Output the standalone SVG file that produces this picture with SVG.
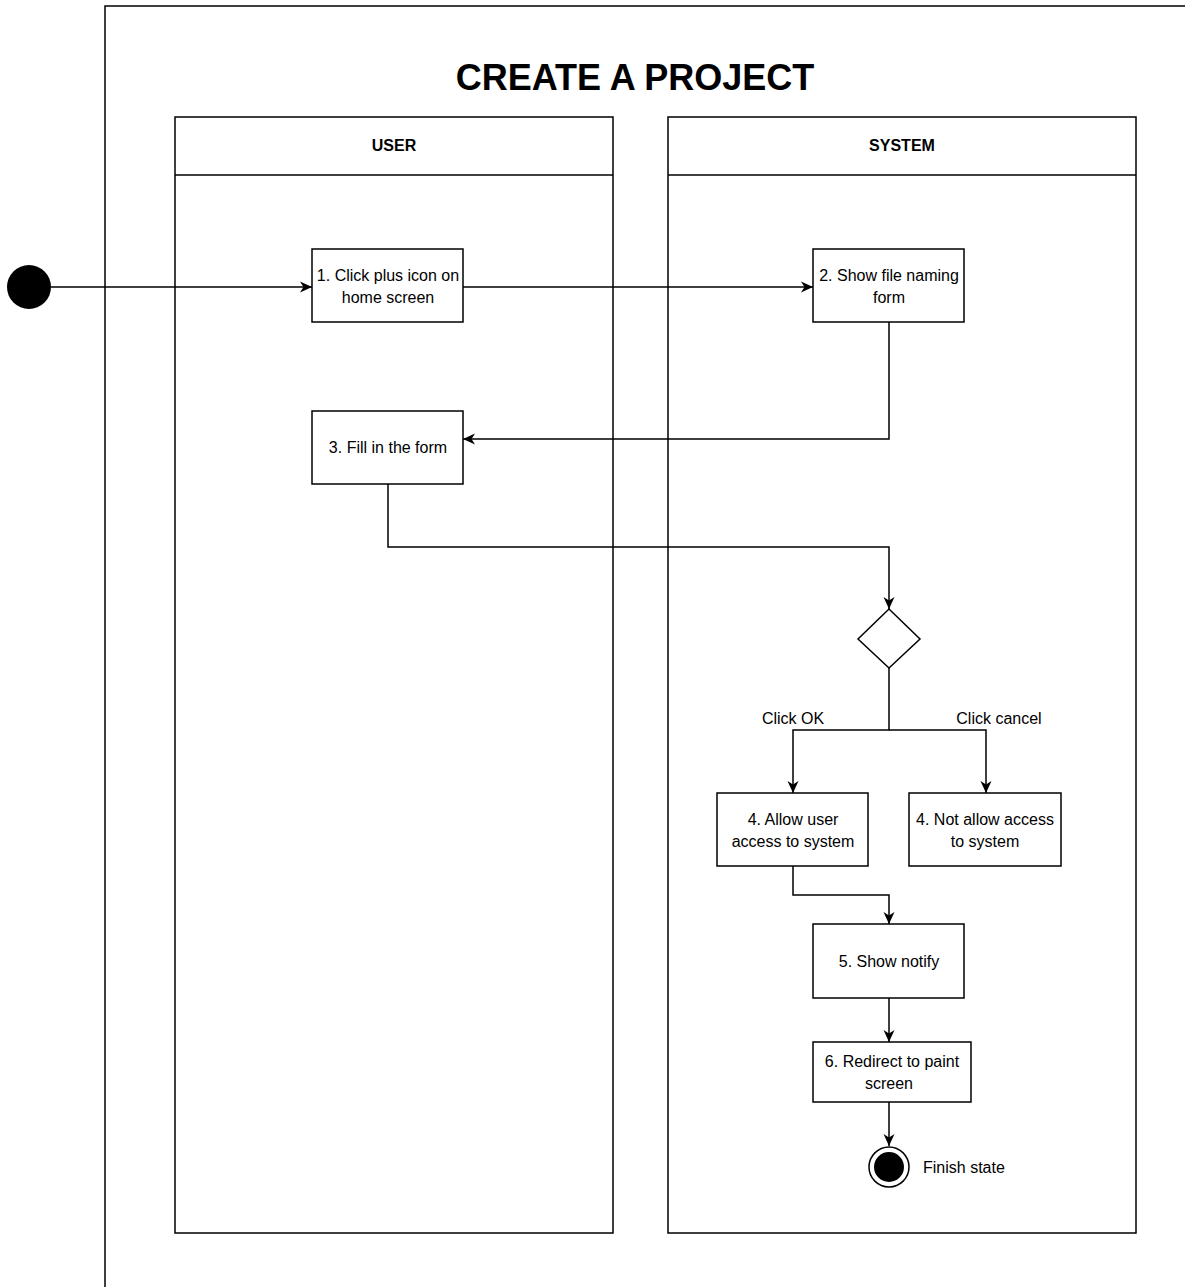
<svg xmlns="http://www.w3.org/2000/svg" width="1185" height="1287" viewBox="0 0 1185 1287">
  <defs>
    <marker id="arrow" viewBox="0 0 12 12" refX="12" refY="6" markerWidth="12" markerHeight="12" markerUnits="userSpaceOnUse" orient="auto">
      <path d="M0,0.5 L12,6 L0,11.5 L3.5,6 Z" fill="#000"/>
    </marker>
  </defs>
  <style>
    text { font-family: "Liberation Sans", Arial, sans-serif; fill: #000; }
    .title { font-size: 36px; font-weight: bold; }
    .lane-title { font-size: 16px; font-weight: bold; }
    .label { font-size: 16px; }
    .box { fill: #fff; stroke: #000; stroke-width: 1.5; }
    .frame { fill: none; stroke: #000; stroke-width: 1.5; }
    .edge { fill: none; stroke: #000; stroke-width: 1.5; marker-end: url(#arrow); }
  </style>
  <rect width="1185" height="1287" fill="#fff"/>

  <!-- outer frame running off the page -->
  <path class="frame" d="M1200,6 H105 V1300"/>

  <text class="title" x="635" y="90" text-anchor="middle">CREATE A PROJECT</text>

  <!-- swimlanes -->
  <g id="lane-user">
    <rect class="frame" x="175" y="117" width="438" height="1116"/>
    <line x1="175" y1="175" x2="613" y2="175" stroke="#000" stroke-width="1.5"/>
    <text class="lane-title" x="394" y="151" text-anchor="middle">USER</text>
  </g>
  <g id="lane-system">
    <rect class="frame" x="668" y="117" width="468" height="1116"/>
    <line x1="668" y1="175" x2="1136" y2="175" stroke="#000" stroke-width="1.5"/>
    <text class="lane-title" x="902" y="151" text-anchor="middle">SYSTEM</text>
  </g>

  <!-- connectors -->
  <g id="connectors">
    <path class="edge" d="M51,287 H312"/>
    <path class="edge" d="M463,287 H813"/>
    <path class="edge" d="M889,322 V439 H463"/>
    <path class="edge" d="M388,484 V547 H889 V609"/>
    <path class="edge" d="M889,668 V730 H793 V793"/>
    <path class="edge" d="M889,730 H986 V793"/>
    <path class="edge" d="M793,866 V895 H889 V924"/>
    <path class="edge" d="M889,998 V1042"/>
    <path class="edge" d="M889,1102 V1146"/>
    <text class="label" x="793" y="724" text-anchor="middle">Click OK</text>
    <text class="label" x="999" y="724" text-anchor="middle">Click cancel</text>
  </g>

  <!-- nodes -->
  <g id="start">
    <circle cx="29" cy="287" r="22" fill="#000"/>
  </g>
  <g id="step1">
    <rect class="box" x="312" y="249" width="151" height="73"/>
    <text class="label" x="388" y="281" text-anchor="middle">1. Click plus icon on</text>
    <text class="label" x="388" y="303" text-anchor="middle">home screen</text>
  </g>
  <g id="step2">
    <rect class="box" x="813" y="249" width="151" height="73"/>
    <text class="label" x="889" y="281" text-anchor="middle">2. Show file naming</text>
    <text class="label" x="889" y="303" text-anchor="middle">form</text>
  </g>
  <g id="step3">
    <rect class="box" x="312" y="411" width="151" height="73"/>
    <text class="label" x="388" y="453" text-anchor="middle">3. Fill in the form</text>
  </g>
  <g id="decision">
    <polygon class="box" points="889,609 920,639 889,668 858,639"/>
  </g>
  <g id="step4-allow">
    <rect class="box" x="717" y="793" width="151" height="73"/>
    <text class="label" x="793" y="825" text-anchor="middle">4. Allow user</text>
    <text class="label" x="793" y="847" text-anchor="middle">access to system</text>
  </g>
  <g id="step4-deny">
    <rect class="box" x="909" y="793" width="152" height="73"/>
    <text class="label" x="985" y="825" text-anchor="middle">4. Not allow access</text>
    <text class="label" x="985" y="847" text-anchor="middle">to system</text>
  </g>
  <g id="step5">
    <rect class="box" x="813" y="924" width="151" height="74"/>
    <text class="label" x="889" y="967" text-anchor="middle">5. Show notify</text>
  </g>
  <g id="step6">
    <rect class="box" x="813" y="1042" width="158" height="60"/>
    <text class="label" x="892" y="1067" text-anchor="middle">6. Redirect to paint</text>
    <text class="label" x="889" y="1089" text-anchor="middle">screen</text>
  </g>
  <g id="finish">
    <circle cx="889" cy="1167" r="20" fill="#fff" stroke="#000" stroke-width="1.5"/>
    <circle cx="889" cy="1167" r="15" fill="#000"/>
    <text class="label" x="923" y="1173">Finish state</text>
  </g>
</svg>
